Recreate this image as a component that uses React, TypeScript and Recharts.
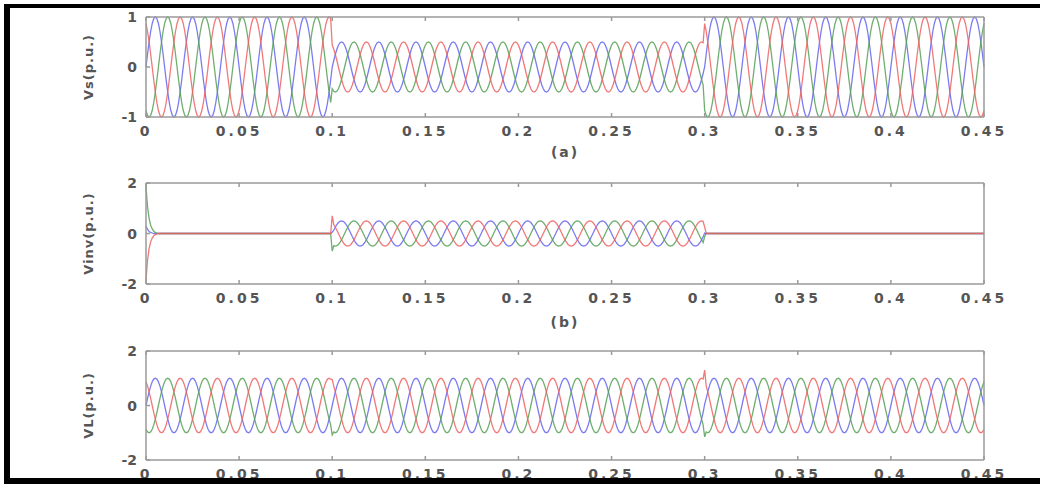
import { LineChart, Line, XAxis, YAxis } from 'recharts';

// 50 Hz three phase waveforms, sampled 24 times per 0.02 s cycle
const SAMPLES_PER_CYCLE = 24;
const STEP = 0.02 / SAMPLES_PER_CYCLE;
const T_END = 0.45;

// one cycle of the unit waveform
const CYCLE = [
  0, 0.26, 0.5, 0.71, 0.87, 0.97, 1, 0.97, 0.87, 0.71, 0.5, 0.26,
  0, -0.26, -0.5, -0.71, -0.87, -0.97, -1, -0.97, -0.87, -0.71, -0.5, -0.26,
];
// sample shift of each phase: blue reference, green lags 120deg, red leads 120deg
const PHASE_SHIFT = { a: 0, b: 16, c: 8 };

const X_TICKS = [0, 0.05, 0.1, 0.15, 0.2, 0.25, 0.3, 0.35, 0.4, 0.45];
const SEG_EDGES = [0, 0.1, 0.3];

// amplitude of each segment (0-0.1, 0.1-0.3, 0.3-0.45)
const VS_AMP = [1, 0.5, 1];
const VINV_AMP = [0, 0.5, 0];
const VL_AMP = [1, 1, 1];

// start-up transient of the inverter voltage (first samples)
const VINV_START_A = [0.3, 0.16, 0.08, 0.04, 0.02];
const VINV_START_B = [1.85, 1.05, 0.6, 0.33, 0.18, 0.09, 0.04, 0.02];
const VINV_START_C = [-1.85, -1.05, -0.6, -0.33, -0.18, -0.09, -0.04, -0.02];

// switching spikes
const VINV_SPIKES = [
  { t: 0.1, a: 0.05, b: -0.7, c: 0.7 },
  { t: 0.3, a: 0.02, b: -0.12, c: 0.25 },
];
const VL_SPIKES = [
  { t: 0.1, a: 0, b: -1.08, c: 0.95 },
  { t: 0.3, a: 0.05, b: -1.15, c: 1.3 },
];

const COLORS = { a: '#6464ee', b: '#55a055', c: '#ee6060' };

type Row = { t: number; a: number; b: number; c: number };
type Spike = { t: number; a: number; b: number; c: number };

const buildTable = (
  amps: number[],
  spikes: Spike[] = [],
  start?: { a: number[]; b: number[]; c: number[] },
): Row[] => {
  const n = Math.round(T_END / STEP);
  const rows: Row[] = [];
  for (let i = 0; i <= n; i++) {
    const t = i * STEP;
    let seg = 0;
    SEG_EDGES.forEach((e, k) => {
      if (t >= e - STEP / 2) seg = k;
    });
    const amp = amps[seg];
    const row: Row = {
      t,
      a: amp * CYCLE[(i + PHASE_SHIFT.a) % SAMPLES_PER_CYCLE],
      b: amp * CYCLE[(i + PHASE_SHIFT.b) % SAMPLES_PER_CYCLE],
      c: amp * CYCLE[(i + PHASE_SHIFT.c) % SAMPLES_PER_CYCLE],
    };
    if (start) {
      if (i < start.a.length) row.a = start.a[i];
      if (i < start.b.length) row.b = start.b[i];
      if (i < start.c.length) row.c = start.c[i];
    }
    spikes.forEach((s) => {
      if (Math.round(s.t / STEP) === i) {
        row.a = s.a;
        row.b = s.b;
        row.c = s.c;
      }
    });
    rows.push(row);
  }
  return rows;
};

const vsData = buildTable(VS_AMP);
const vinvData = buildTable(VINV_AMP, VINV_SPIKES, { a: VINV_START_A, b: VINV_START_B, c: VINV_START_C });
const vlData = buildTable(VL_AMP, VL_SPIKES);

const FONT = '"DejaVu Sans", Arial, sans-serif';
const TEXT_COLOR = '#555';
const BOX = '#9a9a9a';

const XTick = ({ x, y, payload }: any) => (
  <text
    x={x}
    y={y}
    dy="0.71em"
    textAnchor="middle"
    fill={TEXT_COLOR}
    fontFamily={FONT}
    fontWeight="bold"
    fontSize={14}
    letterSpacing={3}
  >
    {String(payload.value)}
  </text>
);

const YTick = ({ x, y, payload }: any) => (
  <text
    x={x}
    y={y}
    dy="0.36em"
    textAnchor="end"
    fill={TEXT_COLOR}
    fontFamily={FONT}
    fontWeight="bold"
    fontSize={14}
  >
    {String(payload.value)}
  </text>
);

const Blank = () => <g />;

interface PanelProps {
  data: Row[];
  top: number;
  height: number;
  marginTop: number;
  xHeight: number;
  yDomain: number[];
  yTicks: number[];
  yLabel: string;
  caption?: string;
}

const Panel = ({ data, top, height, marginTop, xHeight, yDomain, yTicks, yLabel, caption }: PanelProps) => (
  <div style={{ position: 'absolute', left: 0, top }}>
    <LineChart
      width={1040}
      height={height}
      data={data}
      margin={{ top: marginTop - 1, right: 55, bottom: 0, left: 80 }}
    >
      <XAxis
        dataKey="t"
        type="number"
        domain={[0, T_END]}
        ticks={X_TICKS}
        height={xHeight}
        tick={<XTick />}
        tickSize={-4}
        tickMargin={13}
        stroke={BOX}
        strokeWidth={1.5}
        tickLine={{ stroke: BOX }}
        label={
          caption
            ? {
                value: caption,
                position: 'insideBottom',
                offset: 8,
                fill: TEXT_COLOR,
                fontFamily: FONT,
                fontWeight: 'bold',
                fontSize: 14,
                letterSpacing: 2,
              }
            : undefined
        }
      />
      <XAxis
        xAxisId="top"
        orientation="top"
        dataKey="t"
        type="number"
        domain={[0, T_END]}
        ticks={X_TICKS}
        height={1}
        tick={<Blank />}
        tickSize={-4}
        stroke={BOX}
        strokeWidth={1.5}
        tickLine={{ stroke: BOX }}
      />
      <YAxis
        type="number"
        domain={yDomain}
        ticks={yTicks}
        width={66}
        tick={<YTick />}
        tickSize={-4}
        tickMargin={13}
        stroke={BOX}
        strokeWidth={1.5}
        tickLine={{ stroke: BOX }}
        label={{
          value: yLabel,
          angle: -90,
          position: 'insideLeft',
          offset: 8,
          fill: TEXT_COLOR,
          fontFamily: FONT,
          fontWeight: 'bold',
          fontSize: 13,
          letterSpacing: 1,
          style: { textAnchor: 'middle' },
        }}
      />
      <YAxis
        yAxisId="right"
        orientation="right"
        type="number"
        domain={yDomain}
        ticks={yTicks}
        width={1}
        tick={<Blank />}
        tickSize={-4}
        stroke={BOX}
        strokeWidth={1.5}
        tickLine={{ stroke: BOX }}
      />
      <Line dataKey="a" type="linear" stroke={COLORS.a} strokeWidth={1.3} strokeOpacity={0.85} dot={false} isAnimationActive={false} />
      <Line dataKey="b" type="linear" stroke={COLORS.b} strokeWidth={1.3} strokeOpacity={0.85} dot={false} isAnimationActive={false} />
      <Line dataKey="c" type="linear" stroke={COLORS.c} strokeWidth={1.3} strokeOpacity={0.85} dot={false} isAnimationActive={false} />
    </LineChart>
  </div>
);

export default function App() {
  return (
    <div
      style={{
        position: 'fixed',
        left: 0,
        top: 0,
        width: 1040,
        height: 485,
        background: '#fff',
        overflow: 'hidden',
      }}
    >
      <Panel data={vsData} top={0} height={165} marginTop={17} xHeight={48} yDomain={[-1, 1]} yTicks={[-1, 0, 1]} yLabel="Vs(p.u.)" caption="(a)" />
      <Panel data={vinvData} top={165} height={170} marginTop={18} xHeight={51} yDomain={[-2, 2]} yTicks={[-2, 0, 2]} yLabel="Vinv(p.u.)" caption="(b)" />
      <Panel data={vlData} top={335} height={150} marginTop={16} xHeight={25} yDomain={[-2, 2]} yTicks={[-2, 0, 2]} yLabel="VL(p.u.)" />
      {/* black frame round the figure (right side is cut off in the original) */}
      <div style={{ position: 'absolute', left: 4, top: 4, width: 1036, height: 4, background: '#000' }} />
      <div style={{ position: 'absolute', left: 4, top: 4, width: 6, height: 480, background: '#000' }} />
      <div style={{ position: 'absolute', left: 4, top: 478, width: 1036, height: 6, background: '#000' }} />
    </div>
  );
}
